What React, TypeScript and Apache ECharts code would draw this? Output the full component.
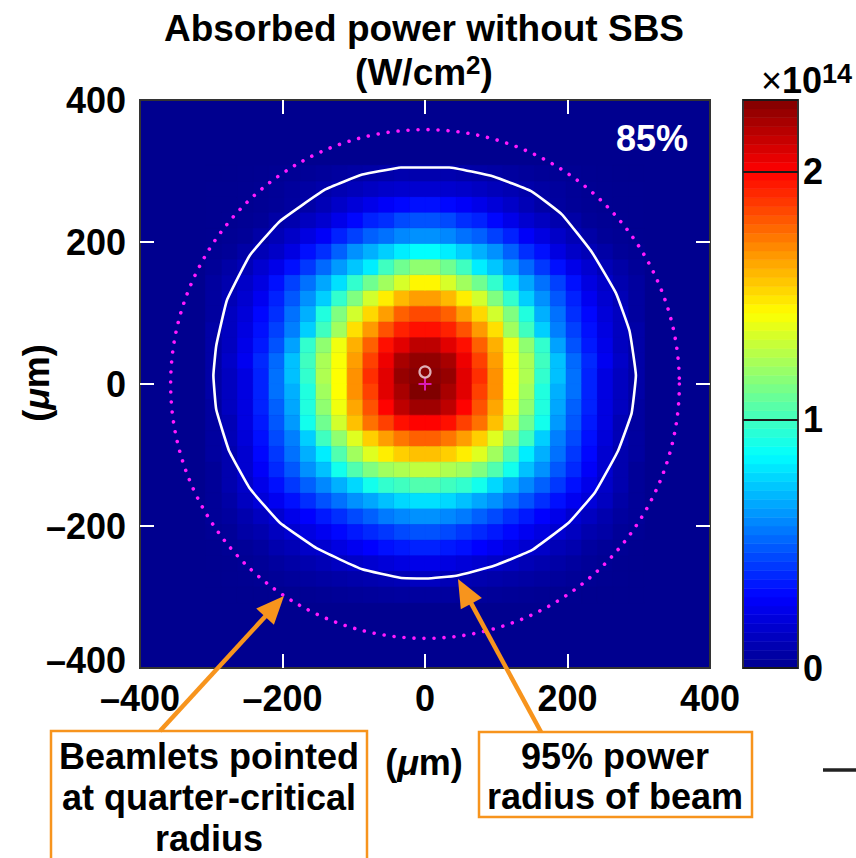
import { useEffect, useRef } from 'react';
import * as echarts from 'echarts';

const FONT = '"Liberation Sans", Arial, Helvetica, sans-serif';

// Absorbed intensity, units of 1e14 W/cm^2, on 22-µm cells.
const CELL_UM = 22;
// y >= 0: row 0 is y in [0, 22] µm counting upward; column 0 is |x| in [0, 22] µm counting outward.
const upperHalf: number[][] = [
  [2.27, 2.24, 2.07, 1.9, 1.68, 1.43, 1.25, 0.97, 0.72, 0.54, 0.36, 0.21, 0.125, 0.06],
  [2.25, 2.2, 2.04, 1.86, 1.65, 1.42, 1.24, 1.0, 0.72, 0.52, 0.375, 0.25, 0.145, 0.06],
  [2.15, 2.07, 1.97, 1.79, 1.61, 1.4, 1.18, 0.97, 0.65, 0.47, 0.34, 0.23, 0.125, 0.06],
  [1.97, 1.93, 1.82, 1.66, 1.5, 1.22, 1.0, 0.75, 0.57, 0.43, 0.32, 0.21, 0.125, 0.06],
  [1.84, 1.79, 1.65, 1.52, 1.33, 1.145, 0.93, 0.68, 0.54, 0.39, 0.3, 0.19, 0.125, 0.04],
  [1.65, 1.59, 1.47, 1.33, 1.145, 0.97, 0.75, 0.61, 0.48, 0.36, 0.25, 0.165, 0.1, 0.04],
  [1.45, 1.34, 1.22, 1.11, 0.97, 0.79, 0.66, 0.54, 0.43, 0.32, 0.21, 0.145, 0.08, 0.04],
  [1.18, 1.11, 1.0, 0.82, 0.73, 0.63, 0.52, 0.41, 0.32, 0.23, 0.165, 0.1, 0.06, 0.023],
  [0.86, 0.82, 0.75, 0.68, 0.61, 0.5, 0.39, 0.32, 0.21, 0.145, 0.1, 0.06, 0.023, 0.013],
  [0.61, 0.59, 0.54, 0.5, 0.43, 0.36, 0.27, 0.21, 0.145, 0.1, 0.06, 0.023, 0.013, 0.003],
  [0.47, 0.45, 0.39, 0.36, 0.3, 0.23, 0.165, 0.125, 0.08, 0.06, 0.023, 0.013, 0.005, 0.003],
  [0.32, 0.3, 0.27, 0.23, 0.19, 0.145, 0.1, 0.06, 0.04, 0.023, 0.013, 0.005, 0.003, 0.003],
  [0.165, 0.16, 0.15, 0.13, 0.11, 0.09, 0.07, 0.05, 0.035, 0.02, 0.01, 0.005, 0.003, 0.003],
  [0.08, 0.08, 0.07, 0.06, 0.05, 0.04, 0.03, 0.02, 0.015, 0.01, 0.005, 0.003, 0, 0],
];
// y < 0: row 0 is y in [-22, 0] µm counting downward; columns as above.
const lowerHalf: number[][] = [
  [2.29, 2.2, 2.07, 1.86, 1.68, 1.43, 1.22, 0.93, 0.68, 0.54, 0.36, 0.21, 0.125, 0.06],
  [2.22, 2.15, 2.0, 1.82, 1.63, 1.4, 1.18, 0.93, 0.66, 0.5, 0.36, 0.21, 0.125, 0.04],
  [2.0, 1.97, 1.86, 1.75, 1.57, 1.33, 1.11, 0.9, 0.63, 0.48, 0.34, 0.21, 0.1, 0.04],
  [1.79, 1.74, 1.65, 1.54, 1.36, 1.18, 1.0, 0.75, 0.57, 0.45, 0.32, 0.19, 0.1, 0.04],
  [1.57, 1.54, 1.47, 1.36, 1.22, 1.04, 0.82, 0.68, 0.54, 0.41, 0.3, 0.165, 0.08, 0.04],
  [1.29, 1.25, 1.22, 1.145, 1.04, 0.9, 0.72, 0.61, 0.48, 0.375, 0.27, 0.165, 0.08, 0.023],
  [1.04, 1.0, 0.97, 0.9, 0.77, 0.68, 0.59, 0.5, 0.41, 0.32, 0.23, 0.145, 0.08, 0.023],
  [0.79, 0.77, 0.72, 0.66, 0.61, 0.54, 0.47, 0.39, 0.32, 0.25, 0.19, 0.125, 0.06, 0.023],
  [0.61, 0.59, 0.56, 0.5, 0.45, 0.39, 0.34, 0.286, 0.23, 0.165, 0.125, 0.08, 0.04, 0.023],
  [0.47, 0.45, 0.41, 0.375, 0.34, 0.3, 0.25, 0.21, 0.165, 0.125, 0.08, 0.06, 0.023, 0.013],
  [0.36, 0.34, 0.32, 0.286, 0.25, 0.21, 0.165, 0.145, 0.1, 0.08, 0.04, 0.023, 0.013, 0.003],
  [0.23, 0.21, 0.19, 0.165, 0.145, 0.125, 0.1, 0.08, 0.06, 0.04, 0.023, 0.013, 0.005, 0.003],
  [0.125, 0.1, 0.09, 0.08, 0.07, 0.06, 0.05, 0.04, 0.03, 0.02, 0.01, 0.005, 0.003, 0],
  [0.04, 0.04, 0.035, 0.03, 0.025, 0.02, 0.015, 0.01, 0.005, 0.003, 0, 0, 0, 0],
];

// 95% power contour of the beam (µm)
const contourX = [-35, 34, 97, 150, 192, 234, 268, 287, 296, 290, 271, 239, 202, 150, 97, 44, 2, -35, -88, -151, -204, -246, -275, -293, -297, -293, -278, -246, -204, -140, -88];
const contourY = [305, 305, 292, 271, 239, 186, 128, 75, 12, -41, -94, -152, -195, -234, -256, -270, -274, -273, -261, -232, -195, -147, -94, -36, 12, 54, 118, 181, 229, 274, 295];

// Quarter-critical radius that the beamlets point at (µm)
const quarterCriticalRadius = 357;
const beamCentroid = [0, 17];
const targetCenter = [0, 0];

const axisMin = -400;
const axisMax = 400;
const axisStep = 200;
const innerTicks = [-200, 0, 200];
const colorbarMax = 2.29;
const colorbarTicks = [0, 1, 2];
const colorbarSteps = 64;
const absorbedFraction = '85%';

const JET = ['#00008f', '#0000ff', '#0080ff', '#00ffff', '#80ff80', '#ffff00', '#ff8000', '#ff0000', '#800000'];
const ORANGE = '#f7941d';

const cells: number[][] = [];
upperHalf.forEach((row, r) =>
  row.forEach((v, c) => {
    const x = (c + 0.5) * CELL_UM;
    const y = (r + 0.5) * CELL_UM;
    cells.push([x, y, v], [-x, y, v]);
  })
);
lowerHalf.forEach((row, r) =>
  row.forEach((v, c) => {
    const x = (c + 0.5) * CELL_UM;
    const y = -(r + 0.5) * CELL_UM;
    cells.push([x, y, v], [-x, y, v]);
  })
);

const contour = contourX.map((x, i) => [x, contourY[i]]);
contour.push([contourX[0], contourY[0]]);

const colorbarBands: number[][] = [];
for (let i = 0; i < colorbarSteps; i++) {
  const lo = (i / colorbarSteps) * colorbarMax;
  const hi = ((i + 1) / colorbarSteps) * colorbarMax;
  colorbarBands.push([0, lo, (lo + hi) / 2, hi]);
}

const dash = (v: number) => (v < 0 ? '\u2013' + Math.abs(v) : String(v));

const labelStyle = {
  fontFamily: FONT,
  fontWeight: 'bold' as const,
  fontSize: 36,
  color: '#000',
};

const tickStyle = {
  show: true,
  inside: true,
  length: 14,
  lineStyle: { color: '#ffffff', width: 2 },
  customValues: innerTicks,
};

function mainAxis(position: string, withLabels: boolean, vertical: boolean) {
  let axisLabel: Record<string, unknown> = { show: false };
  if (withLabels) {
    axisLabel = vertical
      ? {
          ...labelStyle,
          margin: 14,
          // lift the lowest label so it clears the horizontal axis labels
          formatter: (v: number) => (v === axisMin ? '{lo|' + dash(v) + '}' : dash(v)),
          rich: { lo: { ...labelStyle, padding: [0, 0, 16, 0] } },
        }
      : { ...labelStyle, margin: 12, formatter: (v: number) => dash(v) };
  }
  return {
    gridIndex: 0,
    type: 'value',
    min: axisMin,
    max: axisMax,
    interval: axisStep,
    position,
    z: 3,
    axisLine: { show: false, onZero: false },
    axisTick: tickStyle,
    splitLine: { show: false },
    axisLabel,
  };
}

function text(t: string, x: number, y: number, extra: Record<string, unknown> = {}) {
  return {
    type: 'text',
    x,
    y,
    z: 20,
    style: {
      text: t,
      fill: '#000',
      fontFamily: FONT,
      fontWeight: 'bold',
      fontSize: 36,
      textAlign: 'center',
      textVerticalAlign: 'middle',
      ...extra,
    },
  };
}

function arrow(x1: number, y1: number, x2: number, y2: number) {
  const len = Math.hypot(x2 - x1, y2 - y1);
  const ux = (x2 - x1) / len;
  const uy = (y2 - y1) / len;
  const head = 28;
  const half = 12;
  const bx = x2 - ux * head;
  const by = y2 - uy * head;
  return [
    {
      type: 'line',
      z: 15,
      shape: { x1, y1, x2: bx + ux * 4, y2: by + uy * 4 },
      style: { stroke: ORANGE, lineWidth: 4.5 },
    },
    {
      type: 'polygon',
      z: 15,
      shape: {
        points: [
          [x2, y2],
          [bx - uy * half, by + ux * half],
          [bx + uy * half, by - ux * half],
        ],
      },
      style: { fill: ORANGE },
    },
  ];
}

export default function App() {
  const ref = useRef<HTMLDivElement>(null);

  useEffect(() => {
    if (!ref.current) return;
    const chart = echarts.init(ref.current, undefined, { renderer: 'svg' });

    const option = {
      animation: false,
      backgroundColor: '#ffffff',
      grid: [
        {
          left: 140,
          top: 100,
          width: 570,
          height: 568,
          show: true,
          backgroundColor: '#00008f',
          borderColor: '#333333',
          borderWidth: 2,
        },
        {
          left: 743,
          top: 100,
          width: 55,
          height: 568,
          show: true,
          backgroundColor: 'transparent',
          borderColor: '#333333',
          borderWidth: 2,
          z: 10,
        },
      ],
      xAxis: [
        mainAxis('bottom', true, false),
        mainAxis('top', false, false),
        { gridIndex: 1, type: 'value', min: 0, max: 1, show: false },
      ],
      yAxis: [
        mainAxis('left', true, true),
        mainAxis('right', false, true),
        {
          gridIndex: 1,
          type: 'value',
          min: 0,
          max: colorbarMax,
          interval: 1,
          position: 'right',
          z: 10,
          axisLine: { show: false, onZero: false },
          axisTick: { show: false },
          splitLine: { show: true, lineStyle: { color: '#1a1a1a', width: 2.2 } },
          axisLabel: {
            ...labelStyle,
            margin: 5,
            formatter: (v: number) => (colorbarTicks.includes(v) ? String(v) : ''),
          },
        },
      ],
      visualMap: {
        type: 'continuous',
        show: false,
        min: 0,
        max: colorbarMax,
        dimension: 2,
        seriesIndex: [0, 5],
        inRange: { color: JET },
      },
      series: [
        {
          type: 'custom',
          xAxisIndex: 0,
          yAxisIndex: 0,
          clip: true,
          encode: { x: 0, y: 1 },
          data: cells,
          z: 2,
          renderItem: (_p: unknown, api: any) => {
            const x = api.value(0);
            const y = api.value(1);
            const a = api.coord([x - CELL_UM / 2, y + CELL_UM / 2]);
            const b = api.coord([x + CELL_UM / 2, y - CELL_UM / 2]);
            const color = api.visual('color');
            return {
              type: 'rect',
              shape: { x: a[0], y: a[1], width: b[0] - a[0], height: b[1] - a[1] },
              style: { fill: color, stroke: color, lineWidth: 0.6 },
            };
          },
        },
        {
          type: 'line',
          xAxisIndex: 0,
          yAxisIndex: 0,
          data: contour,
          showSymbol: false,
          symbol: 'none',
          smooth: 0.1,
          z: 4,
          lineStyle: { color: '#ffffff', width: 2.6 },
        },
        {
          type: 'custom',
          xAxisIndex: 0,
          yAxisIndex: 0,
          encode: { x: 0, y: 1 },
          data: [[0, 0, quarterCriticalRadius]],
          z: 5,
          renderItem: (_p: unknown, api: any) => {
            const c = api.coord([api.value(0), api.value(1)]);
            const r = api.size([api.value(2), 0])[0];
            return {
              type: 'circle',
              shape: { cx: c[0], cy: c[1], r },
              style: {
                fill: 'none',
                stroke: '#ff1aff',
                lineWidth: 3.6,
                lineDash: [0.01, 10],
                lineCap: 'round',
              },
            };
          },
        },
        {
          type: 'scatter',
          xAxisIndex: 0,
          yAxisIndex: 0,
          data: [beamCentroid],
          symbol: 'circle',
          symbolSize: 11,
          z: 7,
          itemStyle: { color: 'rgba(0,0,0,0)', borderColor: '#f2dbe4', borderWidth: 2.2 },
        },
        {
          type: 'scatter',
          xAxisIndex: 0,
          yAxisIndex: 0,
          data: [targetCenter],
          symbol: 'path://M0,5.5H13V7.5H0Z M5.5,0H7.5V13H5.5Z',
          symbolSize: 13,
          z: 6,
          itemStyle: { color: '#f020e0' },
        },
        {
          type: 'custom',
          xAxisIndex: 2,
          yAxisIndex: 2,
          encode: { x: 0, y: 1 },
          data: colorbarBands,
          z: 2,
          renderItem: (_p: unknown, api: any) => {
            const a = api.coord([0, api.value(3)]);
            const b = api.coord([1, api.value(1)]);
            const color = api.visual('color');
            return {
              type: 'rect',
              shape: { x: a[0], y: a[1], width: b[0] - a[0], height: b[1] - a[1] },
              style: { fill: color, stroke: color, lineWidth: 0.6 },
            };
          },
        },
      ],
      graphic: [
        text('Absorbed power without SBS', 424, 28, { fontSize: 37 }),
        {
          type: 'text',
          x: 424,
          y: 72,
          z: 20,
          style: {
            text: '{a|(W/cm}{s|2}{a|)}',
            textAlign: 'center',
            textVerticalAlign: 'middle',
            rich: {
              a: { fontFamily: FONT, fontWeight: 'bold', fontSize: 37, fill: '#000', lineHeight: 40 },
              s: { fontFamily: FONT, fontWeight: 'bold', fontSize: 26, fill: '#000', lineHeight: 40, verticalAlign: 'top', padding: [0, 0, 14, 0] },
            },
          },
        },
        {
          type: 'text',
          x: 852,
          y: 80,
          z: 20,
          style: {
            text: '{x|\u00d7}{a|10}{s|14}',
            textAlign: 'right',
            textVerticalAlign: 'middle',
            rich: {
              x: { fontFamily: FONT, fontWeight: 'normal', fontSize: 36, fill: '#000', lineHeight: 40 },
              a: { fontFamily: FONT, fontWeight: 'bold', fontSize: 36, fill: '#000', lineHeight: 40 },
              s: { fontFamily: FONT, fontWeight: 'bold', fontSize: 27, fill: '#000', lineHeight: 40, verticalAlign: 'top', padding: [0, 0, 14, 0] },
            },
          },
        },
        text(absorbedFraction, 652, 138, { fill: '#ffffff' }),
        {
          type: 'text',
          x: 424,
          y: 762,
          z: 20,
          style: {
            text: '{a|(}{m|\u03bc}{a|m)}',
            textAlign: 'center',
            textVerticalAlign: 'middle',
            rich: {
              a: { fontFamily: FONT, fontSize: 36, fontWeight: 'bold', fill: '#000' },
              m: { fontFamily: FONT, fontSize: 36, fontWeight: 'bold', fontStyle: 'italic', fill: '#000' },
            },
          },
        },
        {
          type: 'text',
          x: 36,
          y: 383,
          rotation: Math.PI / 2,
          z: 20,
          style: {
            text: '{a|(}{m|\u03bc}{a|m)}',
            textAlign: 'center',
            textVerticalAlign: 'middle',
            rich: {
              a: { fontFamily: FONT, fontSize: 36, fontWeight: 'bold', fill: '#000' },
              m: { fontFamily: FONT, fontSize: 36, fontWeight: 'bold', fontStyle: 'italic', fill: '#000' },
            },
          },
        },
        {
          type: 'rect',
          z: 12,
          shape: { x: 51, y: 731, width: 316, height: 140 },
          style: { fill: '#ffffff', stroke: ORANGE, lineWidth: 2.5 },
        },
        {
          type: 'rect',
          z: 12,
          shape: { x: 479, y: 732, width: 273, height: 85 },
          style: { fill: '#ffffff', stroke: ORANGE, lineWidth: 2.5 },
        },
        text('Beamlets pointed', 209, 756),
        text('at quarter-critical', 209, 797),
        text('radius', 209, 838),
        text('95% power', 615, 756),
        text('radius of beam', 615, 796),
        ...arrow(160, 731, 284, 596),
        ...arrow(541, 732, 458, 579),
        {
          type: 'line',
          z: 12,
          shape: { x1: 823, y1: 770, x2: 856, y2: 770 },
          style: { stroke: '#222222', lineWidth: 3.5 },
        },
      ],
    };

    chart.setOption(option as any);
    return () => chart.dispose();
  }, []);

  return (
    <div
      ref={ref}
      style={{ position: 'fixed', left: 0, top: 0, width: 856, height: 858, background: '#fff' }}
    />
  );
}
